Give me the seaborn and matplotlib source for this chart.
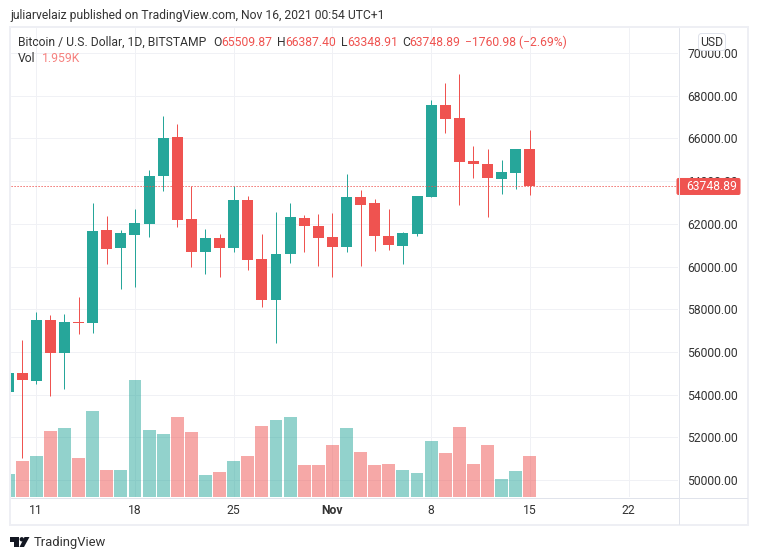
import matplotlib

matplotlib.use("Agg")
import matplotlib.pyplot as plt
import numpy as np
import seaborn as sns
from matplotlib.patches import Circle, FancyBboxPatch, Polygon, Rectangle

# daily candles, Oct 9 to Nov 15 2021
opens = [54100, 55014, 54639, 57496, 55951, 57403, 57356, 61711, 60868, 61477,
         61992, 64240, 66066, 62226, 60681, 61336, 60868, 63116, 60353, 58433,
         60587, 62273, 61898, 61383, 60915, 63256, 62975, 61430, 60962, 61523,
         63257, 67566, 66957, 64943, 64803, 64100, 64381, 65509.87]
highs = [55200, 56560, 57871, 57730, 57777, 58573, 62975, 62367, 61711, 62694,
         64521, 67050, 66675, 63769, 61758, 61524, 63771, 63303, 61524, 62554,
         62975, 62413, 62460, 62507, 64333, 63584, 63163, 62694, 61617, 63303,
         67800, 68596, 69018, 65646, 65505, 64990, 65505, 66387.40]
lows = [53800, 51044, 54499, 53937, 54265, 56841, 56887, 60119, 58948, 59042,
        61383, 63537, 61851, 59978, 59650, 59510, 60681, 59838, 58105, 56419,
        60166, 60681, 60025, 59510, 60681, 60025, 60727, 60774, 60119, 61430,
        63257, 66255, 62883, 64147, 62320, 63398, 63632, 63348.91]
closes = [55014, 54686, 57496, 55951, 57403, 57356, 61664, 60821, 61570, 62039,
          64240, 66019, 62179, 60681, 61336, 60868, 63116, 60306, 58433, 60587,
          62320, 61898, 61336, 60915, 63256, 62882, 61430, 61008, 61570, 63303,
          67566, 66910, 64896, 64803, 64147, 64428, 65505, 63748.89]
volumes = [1100, 1721, 1959, 3155, 3298, 1864, 4111, 1291, 1291, 5593,
           3203, 3011, 3824, 3107, 1052, 1195, 1721, 1960, 3394, 3681,
           3824, 1530, 1530, 2486, 3298, 2151, 1530, 1577, 1291, 1147,
           2677, 2103, 3346, 1577, 2486, 860, 1243, 1959]

price_ticks = [50000, 52000, 54000, 56000, 58000, 60000, 62000, 64000, 66000, 68000, 70000]
date_ticks = [2, 9, 16, 23, 30, 37, 44]
date_labels = ["11", "18", "25", "Nov", "8", "15", "22"]

UP = "#26a69a"
DOWN = "#ef5350"
GRID = "#f0f1f5"
AXIS = "#e0e3eb"
BORDER = "#eeeff4"
TEXT = "#333333"
FONT = "Roboto"
FS = 8.7
PX = 0.72  # one pixel in points

sns.set_theme(style="white")
plt.rcParams["font.family"] = [FONT, "DejaVu Sans"]

opens_a = np.array(opens)
closes_a = np.array(closes)
days = np.arange(len(opens))
is_up = closes_a >= opens_a
colors = [UP if u else DOWN for u in is_up]
direction = ["up" if u else "down" for u in is_up]

W, H = 758, 560
fig = plt.figure(figsize=(W / 100, H / 100), dpi=100, facecolor="white")
ax = fig.add_axes([11 / W, 1 - 497 / H, 667 / W, 469 / H])
ax_vol = ax.twinx()

# candles
ax.vlines(days, lows, highs, colors=colors, linewidth=PX, zorder=3, snap=True)
ax.bar(days, closes_a - opens_a, bottom=opens_a, width=0.78, color=colors, linewidth=0, zorder=4)
ax.axhline(closes[-1], color=DOWN, linestyle=(0, (1.2, 1.8)), linewidth=PX, zorder=5)

# volume pane
sns.barplot(x=days, y=volumes, hue=direction, palette={"up": UP, "down": DOWN},
            native_scale=True, dodge=False, width=0.92, saturation=1, alpha=0.5,
            linewidth=0, errorbar=None, legend=False, ax=ax_vol)

ax.set_xlim(0.206, 47.51)
ax.set_ylim(49204, 71172)
ax_vol.set_ylim(0, 22418)
ax_vol.set_ylabel("")
ax_vol.set_yticks([])

ax.set_yticks(price_ticks)
ax.set_yticklabels([f"{p:.2f}" for p in price_ticks], fontsize=FS, color=TEXT)
ax.yaxis.tick_right()
ax.set_xticks(date_ticks)
ax.tick_params(axis="both", length=0)
ax.tick_params(axis="y", pad=6.8)
ax.tick_params(axis="x", labelbottom=False)
ax.grid(True, color=GRID, linewidth=PX)
ax.set_axisbelow(True)
for a in (ax, ax_vol):
    for s in a.spines.values():
        s.set_visible(False)

# chrome drawn in pixel coordinates on top of everything
ov = fig.add_axes([0, 0, 1, 1], zorder=10)
ov.set_xlim(0, W)
ov.set_ylim(H, 0)
ov.axis("off")

ov.add_patch(Rectangle((10, 27), 738, 498, fill=False, edgecolor=BORDER, linewidth=2 * PX))
ov.plot([678.5, 678.5], [28, 524], color=AXIS, linewidth=PX)
ov.plot([11, 747], [497.5, 497.5], color=AXIS, linewidth=PX)

for d, lab in zip(date_ticks, date_labels):
    px = ax.transData.transform((d, 0))[0]
    ov.text(px, 510.5, lab, ha="center", va="center", fontsize=FS, color=TEXT,
            fontweight="bold" if lab == "Nov" else "normal")

ov.text(10, 15, "juliarvelaiz published on TradingView.com, Nov 16, 2021 00:54 UTC+1",
        fontsize=FS, color=TEXT, va="center")

# legend row, one piece per colour
legend_parts = [
    (18, "Bitcoin / U.S. Dollar, 1D, BITSTAMP", TEXT),
    (213, "O", TEXT), (221, f"{opens[-1]:.2f}", DOWN),
    (277, "H", TEXT), (285, f"{highs[-1]:.2f}", DOWN),
    (341, "L", TEXT), (347, f"{lows[-1]:.2f}", DOWN),
    (402, "C", TEXT), (409, f"{closes[-1]:.2f}", DOWN),
    (465, "\u22121760.98 (\u22122.69%)", DOWN),
]
for px, s, c in legend_parts:
    ov.text(px, 42, s, fontsize=FS, color=c, va="center")
ov.text(18, 59, "Vol", fontsize=FS, color=TEXT, va="center")
ov.text(42, 59, "1.959K", fontsize=FS, color="#f6817f", va="center")

# last price tag, covers the 64000 label like the original
tag_y = H - ax.transData.transform((0, closes[-1]))[1]
ov.add_patch(FancyBboxPatch((677, tag_y - 8), 63, 16, boxstyle="round,pad=0,rounding_size=1.5",
                            facecolor=DOWN, edgecolor=DOWN, linewidth=PX))
ov.text(712, tag_y, f"{closes[-1]:.2f}", ha="center", va="center", fontsize=FS, color="white")

# currency badge
ov.add_patch(FancyBboxPatch((698.5, 33.5), 27, 17, boxstyle="round,pad=0,rounding_size=3",
                            facecolor="white", edgecolor=AXIS, linewidth=PX))
ov.text(712, 42, "USD", ha="center", va="center", fontsize=FS, color=TEXT)

# footer logo
ov.add_patch(Polygon([(10, 537), (19, 537), (19, 547), (14, 547), (14, 541.5), (10, 541.5)],
                     facecolor="#131722", edgecolor="none"))
ov.add_patch(Circle((21.8, 539.3), 2.2, facecolor="#131722", edgecolor="none"))
ov.add_patch(Polygon([(24.5, 537), (29.5, 537), (24, 547), (19.5, 547)],
                     facecolor="#131722", edgecolor="none"))
ov.text(33.5, 542.5, "TradingView", fontsize=9.4, color=TEXT, va="center")

fig.savefig("out.png", dpi=100)
plt.close(fig)
